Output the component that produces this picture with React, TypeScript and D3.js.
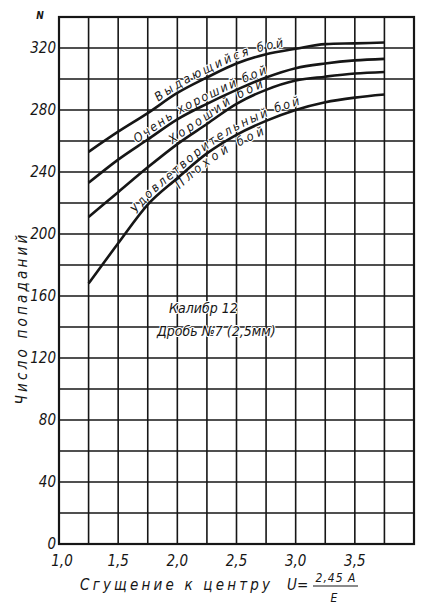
import React from "react";
import * as d3 from "d3";

const xTicks = [1.0, 1.5, 2.0, 2.5, 3.0, 3.5];
const xTickLabels = ["1,0", "1,5", "2,0", "2,5", "3,0", "3,5"];
const yTicks = [0, 40, 80, 120, 160, 200, 240, 280, 320];
const xGrid = d3.range(1, 4.0001, 0.25);
const yGrid = d3.range(0, 340.001, 20);

const vValues = [1.25, 1.5, 1.75, 2.0, 2.25, 2.5, 2.75, 3.0, 3.25, 3.5, 3.75];
const outstanding = [253, 266, 278, 291, 301, 310, 316, 319.5, 322.5, 323, 323.5];
const veryGood = [233, 248, 261, 274, 284, 293, 301, 307, 310, 312, 313];
const good = [211, 227, 243, 258, 271, 284, 293, 299, 301.5, 303.5, 304.5];
const poor = [168, 194, 219, 236, 252, 264, 273, 280, 285, 288, 290];

const curves = [outstanding, veryGood, good, poor];

const labelTexts = ["Выдающийся бой", "Очень хороший бой", "Хороший бой", "Удовлетворительный бой", "Плохой бой"];
const labelCurve = [0, 1, 2, 3, 3];
const labelStart = [1.84, 1.66, 1.96, 1.66, 2.02];
const labelEnd = [2.9, 2.76, 2.73, 3.04, 2.74];
const labelOffset = [-4, -3.5, -3.5, -4, 13];

const W = 424, H = 615;
const x = d3.scaleLinear().domain([1, 4]).range([59, 414]);
const y = d3.scaleLinear().domain([0, 340]).range([544, 17]);

const FONT = "'DejaVu Sans Condensed', 'DejaVu Sans', sans-serif";

function pts(vals: number[], dy = 0): [number, number][] {
  return vals.map((v, i) => [x(vValues[i]), y(v) + dy]);
}

function arcTo(p: [number, number][], px: number) {
  let len = 0;
  for (let i = 1; i < p.length; i++) {
    const [x0, y0] = p[i - 1];
    const [x1, y1] = p[i];
    if (px <= x0) break;
    const t = Math.min(1, (px - x0) / (x1 - x0));
    len += Math.hypot((x1 - x0) * t, (y1 - y0) * t);
    if (t < 1) break;
  }
  return len;
}

export default function App() {
  const line = d3.line<[number, number]>().curve(d3.curveMonotoneX);
  const ink = "#161616";
  const halo = { stroke: "#fff", strokeWidth: 2.2, paintOrder: "stroke" as const, strokeLinejoin: "round" as const };
  return (
    <svg width={W} height={H} style={{ position: "absolute", left: 0, top: 0, background: "#fff" }}>
      <defs>
        {labelTexts.map((_, i) => (
          <path key={i} id={`lp${i}`} d={line(pts(curves[labelCurve[i]], labelOffset[i])) || ""} fill="none" />
        ))}
      </defs>
      <g stroke={ink} strokeWidth={1.6}>
        {xGrid.map((v, i) => (
          <line key={"vx" + i} x1={x(v)} x2={x(v)} y1={y(0)} y2={y(340)} />
        ))}
        {yGrid.map((v, i) => (
          <line key={"hy" + i} x1={x(1)} x2={x(4)} y1={y(v)} y2={y(v)} />
        ))}
      </g>
      <rect x={x(1)} y={y(340)} width={x(4) - x(1)} height={y(0) - y(340)} fill="none" stroke={ink} strokeWidth={2.2} />
      {labelTexts.map((t, i) => {
        const p = pts(curves[labelCurve[i]], labelOffset[i]);
        const s = arcTo(p, x(labelStart[i]));
        const e = arcTo(p, x(labelEnd[i]));
        return (
          <text key={"l" + i} fontFamily={FONT} fontStyle="italic" fontWeight={400} fontSize={12.5} fill={ink} style={halo}>
            <textPath href={`#lp${i}`} startOffset={s} textLength={e - s} lengthAdjust="spacing">
              {t}
            </textPath>
          </text>
        );
      })}
      {curves.map((c, i) => (
        <path key={"c" + i} d={line(pts(c)) || ""} fill="none" stroke={ink} strokeWidth={2.6} />
      ))}
      <g fontFamily={FONT} fontStyle="italic" fill={ink} fontSize={15}>
        {yTicks.map((v) => (
          <text key={"yt" + v} x={56} y={y(v) + 5} textAnchor="end">
            {v}
          </text>
        ))}
        {xTicks.map((v, i) => (
          <text key={"xt" + v} x={x(v) + (i === 0 ? 3 : 0)} y={566} textAnchor="middle">
            {xTickLabels[i]}
          </text>
        ))}
      </g>
      <text x={40} y={19} fontFamily={FONT} fontWeight={700} fontStyle="italic" fontSize={10} textAnchor="middle" fill={ink}>
        N
      </text>
      <text
        transform={`translate(27,318) rotate(-90)`}
        textAnchor="middle"
        fontFamily={FONT}
        fontStyle="italic"
        fontSize={15}
        letterSpacing={3.2}
        fill={ink}
      >
        Число попаданий
      </text>
      <g fontFamily={FONT} fontStyle="italic" fill={ink}>
        <text x={80} y={590} fontSize={15} letterSpacing={3.2}>
          Сгущение к центру
        </text>
        <text x={287} y={590} fontSize={15}>
          U=
        </text>
        <text x={336} y={582} fontSize={12} textAnchor="middle" letterSpacing={1}>
          2,45 A
        </text>
        <line x1={313} x2={358} y1={586} y2={586} stroke={ink} strokeWidth={1.2} />
        <text x={334} y={602} fontSize={12} textAnchor="middle">
          E
        </text>
        <text x={169} y={313} fontSize={14} style={halo}>
          Калибр 12
        </text>
        <text x={157} y={336} fontSize={14} style={halo}>
          Дробь №7 (2,5мм)
        </text>
      </g>
    </svg>
  );
}
